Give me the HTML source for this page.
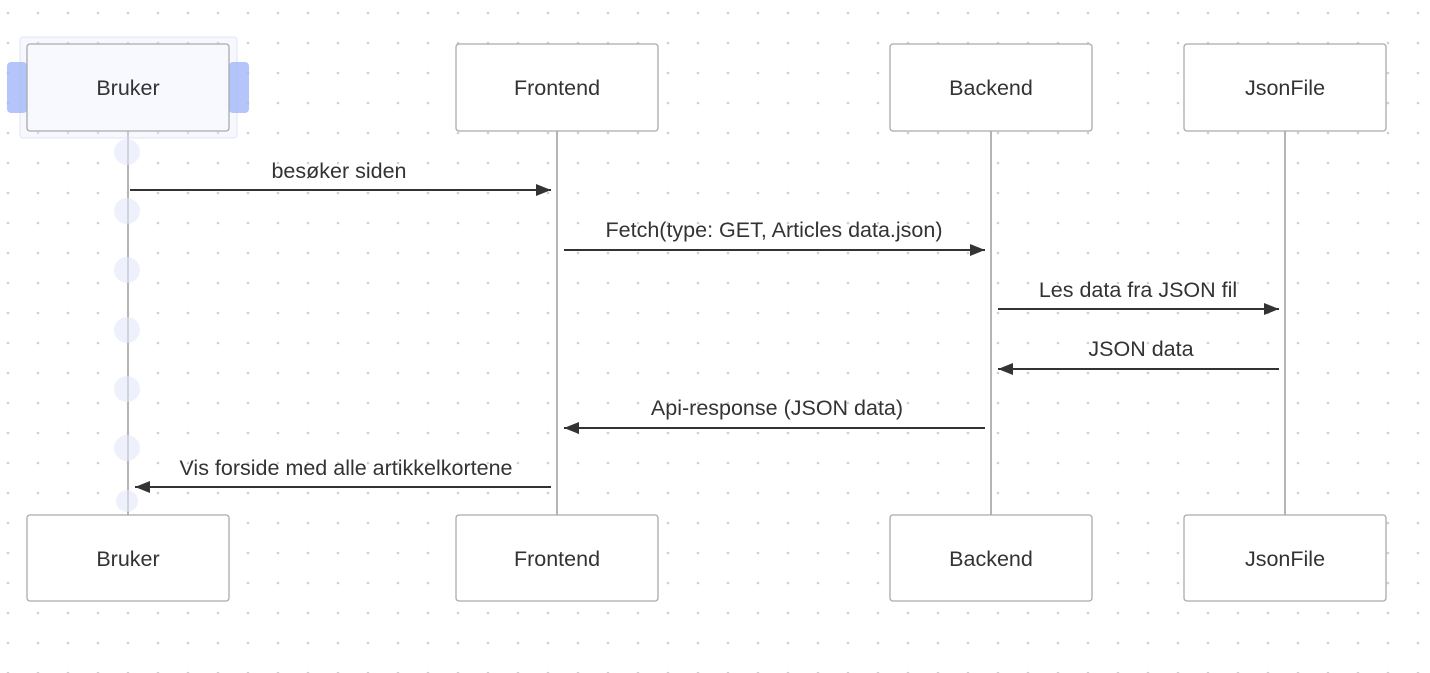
<!DOCTYPE html>
<html><head><meta charset="utf-8"><style>
html,body{margin:0;padding:0;background:#fff;}
svg{display:block;}
text{font-family:"Liberation Sans",Arial,sans-serif;font-size:21.5px;fill:#333;}
</style></head><body>
<svg width="1430" height="673" viewBox="0 0 1430 673" xmlns="http://www.w3.org/2000/svg">
<defs>
<pattern id="dots" x="0" y="0" width="30" height="30" patternUnits="userSpaceOnUse">
<circle cx="8" cy="13" r="1.3" fill="#cfcfcf"/>
</pattern>
<marker id="ah" markerWidth="16" markerHeight="14" refX="15" refY="7" orient="auto" markerUnits="userSpaceOnUse">
<path d="M0,1 L15,7 L0,13 z" fill="#333"/>
</marker>
</defs>
<rect width="1430" height="673" fill="url(#dots)"/>
<!-- lifelines -->
<g stroke="#b5b5b5" stroke-width="2">
<line x1="128" y1="131" x2="128" y2="515"/>
<line x1="557" y1="131" x2="557" y2="515"/>
<line x1="991" y1="131" x2="991" y2="515"/>
<line x1="1285" y1="131" x2="1285" y2="515"/>
</g>
<!-- circles -->
<g fill="#e3e9fb" opacity="0.6">
<circle cx="127" cy="152" r="13"/><circle cx="127" cy="211" r="13"/><circle cx="127" cy="270" r="13"/>
<circle cx="127" cy="330" r="13"/><circle cx="127" cy="389" r="13"/><circle cx="127" cy="448" r="13"/>
<circle cx="127" cy="501" r="11"/>
</g>
<!-- selection -->
<rect x="20" y="37" width="217" height="101" rx="3" fill="#e8edfc" fill-opacity="0.4" stroke="#dfe5fb"/>
<rect x="7" y="62" width="20" height="51" rx="4" fill="#a3b6f8" fill-opacity="0.8"/>
<rect x="229" y="62" width="20" height="51" rx="4" fill="#a3b6f8" fill-opacity="0.8"/>
<!-- boxes -->
<g stroke="#aaa" stroke-width="1.3">
<rect x="27" y="44" width="202" height="87" rx="3" fill="#f8f9fe"/>
<rect x="456" y="44" width="202" height="87" rx="3" fill="#fff"/>
<rect x="890" y="44" width="202" height="87" rx="3" fill="#fff"/>
<rect x="1184" y="44" width="202" height="87" rx="3" fill="#fff"/>
<rect x="27" y="515" width="202" height="86" rx="3" fill="#fff"/>
<rect x="456" y="515" width="202" height="86" rx="3" fill="#fff"/>
<rect x="890" y="515" width="202" height="86" rx="3" fill="#fff"/>
<rect x="1184" y="515" width="202" height="86" rx="3" fill="#fff"/>
</g>
<g text-anchor="middle" style="font-size:22px">
<text x="128" y="95">Bruker</text><text x="557" y="95">Frontend</text><text x="991" y="95">Backend</text><text x="1285" y="95">JsonFile</text>
<text x="128" y="566">Bruker</text><text x="557" y="566">Frontend</text><text x="991" y="566">Backend</text><text x="1285" y="566">JsonFile</text>
</g>
<!-- arrows -->
<g stroke="#333" stroke-width="2" marker-end="url(#ah)">
<line x1="130" y1="190" x2="551" y2="190"/>
<line x1="564" y1="250" x2="985" y2="250"/>
<line x1="998" y1="309" x2="1279" y2="309"/>
<line x1="1279" y1="369" x2="998" y2="369"/>
<line x1="985" y1="428" x2="564" y2="428"/>
<line x1="551" y1="487" x2="135" y2="487"/>
</g>
<g text-anchor="middle">
<text x="339" y="178">besøker siden</text>
<text x="774" y="237">Fetch(type: GET, Articles data.json)</text>
<text x="1138" y="297">Les data fra JSON fil</text>
<text x="1141" y="356">JSON data</text>
<text x="777" y="415">Api-response (JSON data)</text>
<text x="346" y="475">Vis forside med alle artikkelkortene</text>
</g>
</svg>
</body></html>
